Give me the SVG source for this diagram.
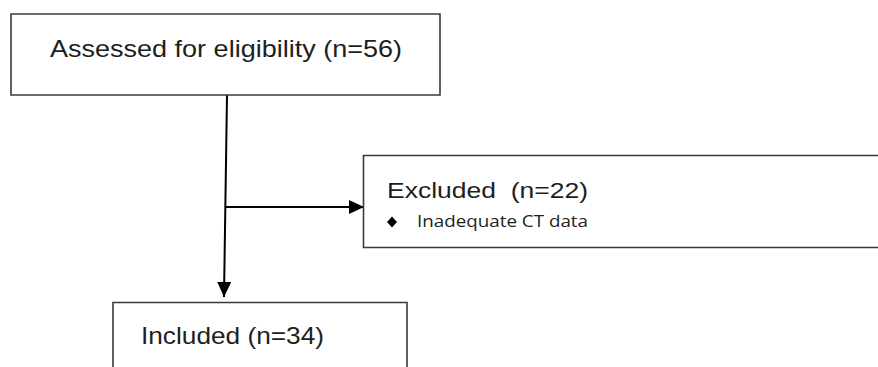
<svg xmlns="http://www.w3.org/2000/svg" width="878" height="367" viewBox="0 0 878 367">
<style>
.box{fill:#fff;stroke:#3a3a3a;stroke-width:1.6}
.t{font-family:"Liberation Sans",Arial,sans-serif;fill:#1e1e1e}
.s{font-family:"Open Sans","Noto Sans",sans-serif;fill:#1e1e1e}
.c{fill:none;stroke:#000;stroke-width:2}
</style>
<defs>
<marker id="ah" markerWidth="15" markerHeight="14" refX="15" refY="7" orient="auto" markerUnits="userSpaceOnUse" viewBox="0 0 15 14">
<path d="M0,0 L15,7 L0,14 Z" fill="#000"/>
</marker>
</defs>
<rect width="878" height="367" fill="#fff"/>
<g id="connectors">
<path class="c" d="M227,95 L224,297" marker-end="url(#ah)"/>
<path class="c" d="M225,207 L364,207" marker-end="url(#ah)"/>
</g>
<g id="assessed">
<path class="box" d="M11,95 L11,14 L440,14 L440,95 Z"/>
<text class="t" x="50" y="57" font-size="24" textLength="352" lengthAdjust="spacingAndGlyphs">Assessed for eligibility (n=56)</text>
</g>
<g id="excluded">
<path class="box" d="M880,155.5 L363.5,155.5 L363.5,247.5 L880,247.5"/>
<text class="t" x="387" y="198" font-size="22" textLength="201" lengthAdjust="spacingAndGlyphs" xml:space="preserve">Excluded  (n=22)</text>
<path d="M392,216.5 L397,222 L392,227.5 L387,222 Z" fill="#000"/>
<text class="s" x="417" y="227" font-size="17" textLength="171" lengthAdjust="spacingAndGlyphs">Inadequate CT data</text>
</g>
<g id="included">
<path class="box" d="M113,370 L113,302.5 L407,302.5 L407,370"/>
<text class="t" x="141" y="344" font-size="24" textLength="183" lengthAdjust="spacingAndGlyphs">Included (n=34)</text>
</g>
</svg>
